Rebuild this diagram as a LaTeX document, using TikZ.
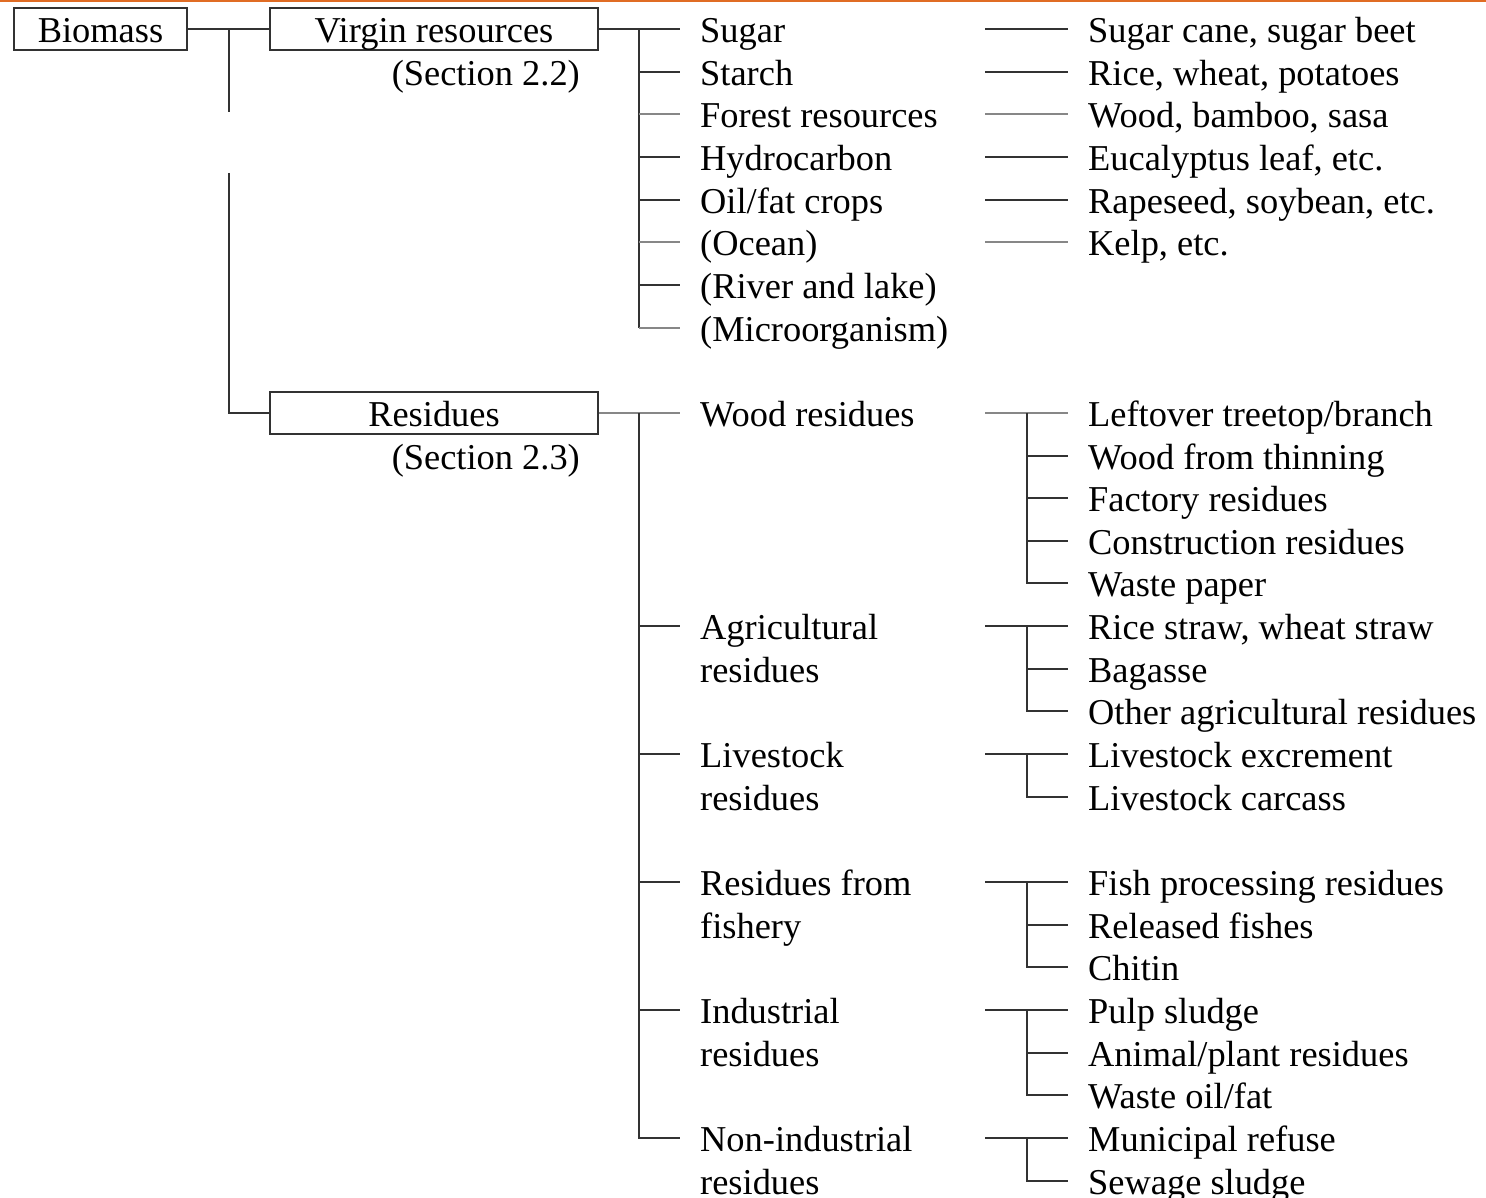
\documentclass[tikz,border=0pt]{standalone}
\usepackage{fontspec}
\setmainfont{Liberation Serif}
\definecolor{rulec}{RGB}{224,108,36}
\definecolor{dk}{RGB}{50,50,50}
\definecolor{lt}{RGB}{135,135,135}
\newcommand{\twol}[2]{\begin{tabular}[t]{@{}l@{}}#1\\#2\end{tabular}}
\begin{document}
\begin{tikzpicture}[x=1pt,y=-42.65pt,
  every node/.style={font=\fontsize{36.4}{42.65}\selectfont, inner sep=0pt, text height=30pt, text depth=3pt},
  box/.style={draw=dk, line width=2pt, minimum height=42pt, anchor=west},
  item/.style={anchor=west},
  ln/.style={draw=dk, line width=2pt},
  lnl/.style={draw=lt, line width=2pt}]
\useasboundingbox (0,-0.68) rectangle (1486,27.386);
\draw[rulec, line width=2pt] (0,-0.657) -- (1486,-0.657);

% junction columns
\coordinate (va) at (229,0);
\coordinate (gapa) at (229,1.946);
\coordinate (gapb) at (229,3.376);
\coordinate (vb) at (639,0);
\coordinate (vc) at (985,0);
\coordinate (vd) at (1027,0);

% boxes
\node[box,minimum width=173pt] (bio) at (13,0) {Biomass};
\node[box,minimum width=328pt] (vir) at (269,0) {Virgin resources};
\node[anchor=east] (s22) at (580,1) {(Section 2.2)};
\node[box,minimum width=328pt] (res) at (269,9) {Residues};
\node[anchor=east] (s23) at (580,10) {(Section 2.3)};

% virgin categories
\node[item] (sugar)  at (700,0) {Sugar};
\node[item] (starch) at (700,1) {Starch};
\node[item] (forest) at (700,2) {Forest resources};
\node[item] (hydro)  at (700,3) {Hydrocarbon};
\node[item] (oil)    at (700,4) {Oil/fat crops};
\node[item] (ocean)  at (700,5) {(Ocean)};
\node[item] (river)  at (700,6) {(River and lake)};
\node[item] (micro)  at (700,7) {(Microorganism)};

\node[item] (r0) at (1088,0) {Sugar cane, sugar beet};
\node[item] (r1) at (1088,1) {Rice, wheat, potatoes};
\node[item] (r2) at (1088,2) {Wood, bamboo, sasa};
\node[item] (r3) at (1088,3) {Eucalyptus leaf, etc.};
\node[item] (r4) at (1088,4) {Rapeseed, soybean, etc.};
\node[item] (r5) at (1088,5) {Kelp, etc.};

% residue categories
\node[item] (wood)   at (700,9)  {Wood residues};
\node[item] (agr)    at (700,14) {\twol{Agricultural}{residues}};
\node[item] (live)   at (700,17) {\twol{Livestock}{residues}};
\node[item] (fish)   at (700,20) {\twol{Residues from}{fishery}};
\node[item] (ind)    at (700,23) {\twol{Industrial}{residues}};
\node[item] (nonind) at (700,26) {\twol{Non-industrial}{residues}};

\node[item] (leftover) at (1088,9)  {Leftover treetop/branch};
\node[item] (thinning) at (1088,10) {Wood from thinning};
\node[item] (factory)  at (1088,11) {Factory residues};
\node[item] (constr)   at (1088,12) {Construction residues};
\node[item] (wpaper)   at (1088,13) {Waste paper};
\node[item] (straw)    at (1088,14) {Rice straw, wheat straw};
\node[item] (bagasse)  at (1088,15) {Bagasse};
\node[item] (otheragr) at (1088,16) {Other agricultural residues};
\node[item] (excr)     at (1088,17) {Livestock excrement};
\node[item] (carcass)  at (1088,18) {Livestock carcass};
\node[item] (fishproc) at (1088,20) {Fish processing residues};
\node[item] (released) at (1088,21) {Released fishes};
\node[item] (chitin)   at (1088,22) {Chitin};
\node[item] (pulp)     at (1088,23) {Pulp sludge};
\node[item] (animal)   at (1088,24) {Animal/plant residues};
\node[item] (wasteoil) at (1088,25) {Waste oil/fat};
\node[item] (municipal) at (1088,26) {Municipal refuse};
\node[item] (sewage)   at (1088,27) {Sewage sludge};

% biomass connectors
\draw[ln] (bio.east) -- (vir.west);
\draw[ln] (va) -- (gapa);
\draw[ln] (gapb) -- (va |- res.west) -- (res.west);

% virgin tree
\draw[ln] (vir.east) -- ([xshift=-20pt]sugar.west);
\draw[ln] (vb) -- (vb |- river.west);
\draw[ln]  (vb |- starch.west) -- ([xshift=-20pt]starch.west);
\draw[lnl] (vb |- forest.west) -- ([xshift=-20pt]forest.west);
\draw[ln]  (vb |- hydro.west)  -- ([xshift=-20pt]hydro.west);
\draw[ln]  (vb |- oil.west)    -- ([xshift=-20pt]oil.west);
\draw[lnl] (vb |- ocean.west)  -- ([xshift=-20pt]ocean.west);
\draw[ln]  (vb |- river.west)  -- ([xshift=-20pt]river.west);
\draw[ln]  (vb |- river.west)  -- (vb |- micro.west);
\draw[lnl] (vb |- micro.west)  -- ([xshift=-20pt]micro.west);

\draw[ln]  (vc |- sugar.west)  -- ([xshift=-20pt]r0.west);
\draw[ln]  (vc |- starch.west) -- ([xshift=-20pt]r1.west);
\draw[lnl] (vc |- forest.west) -- ([xshift=-20pt]r2.west);
\draw[ln]  (vc |- hydro.west)  -- ([xshift=-20pt]r3.west);
\draw[ln]  (vc |- oil.west)    -- ([xshift=-20pt]r4.west);
\draw[lnl] (vc |- ocean.west)  -- ([xshift=-20pt]r5.west);

% residues tree
\draw[lnl] (res.east) -- ([xshift=-20pt]wood.west);
\draw[ln] (vb |- wood.west) -- (vb |- nonind.west) -- ([xshift=-20pt]nonind.west);
\draw[ln] (vb |- agr.west)  -- ([xshift=-20pt]agr.west);
\draw[ln] (vb |- live.west) -- ([xshift=-20pt]live.west);
\draw[ln] (vb |- fish.west) -- ([xshift=-20pt]fish.west);
\draw[ln] (vb |- ind.west)  -- ([xshift=-20pt]ind.west);

% wood residues
\draw[lnl] (vc |- wood.west) -- ([xshift=-20pt]leftover.west);
\draw[ln] (vd |- leftover.west) -- (vd |- wpaper.west) -- ([xshift=-20pt]wpaper.west);
\draw[ln] (vd |- thinning.west) -- ([xshift=-20pt]thinning.west);
\draw[ln] (vd |- factory.west)  -- ([xshift=-20pt]factory.west);
\draw[ln] (vd |- constr.west)   -- ([xshift=-20pt]constr.west);

% agricultural
\draw[ln] (vc |- agr.west) -- ([xshift=-20pt]straw.west);
\draw[ln] (vd |- straw.west) -- (vd |- otheragr.west) -- ([xshift=-20pt]otheragr.west);
\draw[ln] (vd |- bagasse.west) -- ([xshift=-20pt]bagasse.west);

% livestock
\draw[ln] (vc |- live.west) -- ([xshift=-20pt]excr.west);
\draw[ln] (vd |- excr.west) -- (vd |- carcass.west) -- ([xshift=-20pt]carcass.west);

% fishery
\draw[ln] (vc |- fish.west) -- ([xshift=-20pt]fishproc.west);
\draw[ln] (vd |- fishproc.west) -- (vd |- chitin.west) -- ([xshift=-20pt]chitin.west);
\draw[ln] (vd |- released.west) -- ([xshift=-20pt]released.west);

% industrial
\draw[ln] (vc |- ind.west) -- ([xshift=-20pt]pulp.west);
\draw[ln] (vd |- pulp.west) -- (vd |- wasteoil.west) -- ([xshift=-20pt]wasteoil.west);
\draw[ln] (vd |- animal.west) -- ([xshift=-20pt]animal.west);

% non-industrial
\draw[ln] (vc |- nonind.west) -- ([xshift=-20pt]municipal.west);
\draw[ln] (vd |- municipal.west) -- (vd |- sewage.west) -- ([xshift=-20pt]sewage.west);
\end{tikzpicture}
\end{document}
